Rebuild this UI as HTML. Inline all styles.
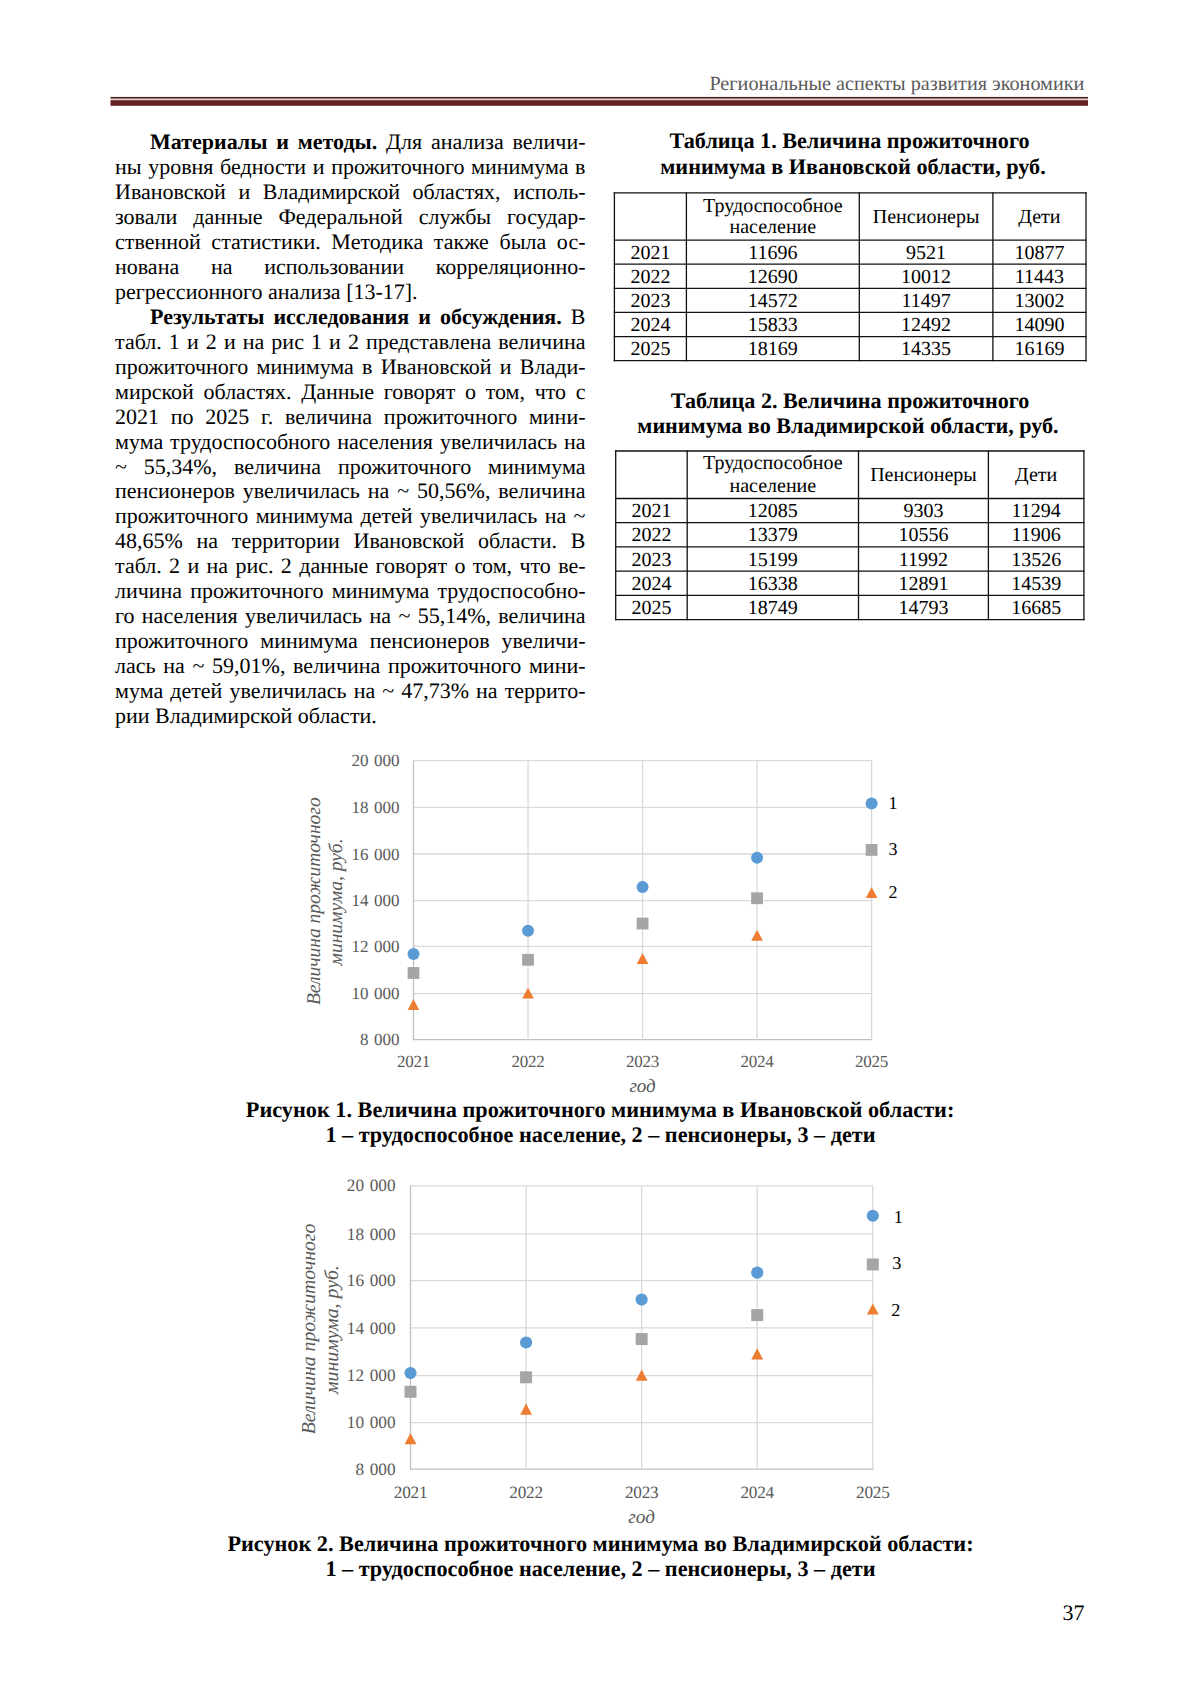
<!DOCTYPE html>
<html><head><meta charset="utf-8"><title>page</title><style>
html,body{margin:0;padding:0;background:#fff;}
body{-webkit-font-smoothing:antialiased;text-rendering:geometricPrecision;width:1200px;height:1697px;position:relative;overflow:hidden;font-family:"Liberation Serif",serif;color:#000;}
svg{position:absolute;left:0;top:0;}
svg text{font-family:"Liberation Serif",serif;}
.j{position:absolute;left:115px;width:470.5px;line-height:0;font-size:22px;text-align:justify;text-align-last:justify;white-space:normal;}
.j.e{text-align-last:left;}
</style></head><body>
<div class="j" style="top:142.15px;left:150px;width:435.5px"><b>Материалы и методы.</b> Для анализа величи-</div>
<div class="j" style="top:167.10px">ны уровня бедности и прожиточного минимума в</div>
<div class="j" style="top:192.05px">Ивановской и Владимирской областях, исполь-</div>
<div class="j" style="top:217.00px">зовали данные Федеральной службы государ-</div>
<div class="j" style="top:241.95px">ственной статистики. Методика также была ос-</div>
<div class="j" style="top:266.90px">нована на использовании корреляционно-</div>
<div class="j e" style="top:291.85px">регрессионного анализа [13-17].</div>
<div class="j" style="top:316.80px;left:150px;width:435.5px"><b>Результаты исследования и обсуждения.</b> В</div>
<div class="j" style="top:341.75px">табл. 1 и 2 и на рис 1 и 2 представлена величина</div>
<div class="j" style="top:366.70px">прожиточного минимума в Ивановской и Влади-</div>
<div class="j" style="top:391.65px">мирской областях. Данные говорят о том, что с</div>
<div class="j" style="top:416.60px">2021 по 2025 г. величина прожиточного мини-</div>
<div class="j" style="top:441.55px">мума трудоспособного населения увеличилась на</div>
<div class="j" style="top:466.50px">~ 55,34%, величина прожиточного минимума</div>
<div class="j" style="top:491.45px">пенсионеров увеличилась на ~ 50,56%, величина</div>
<div class="j" style="top:516.40px">прожиточного минимума детей увеличилась на ~</div>
<div class="j" style="top:541.35px">48,65% на территории Ивановской области. В</div>
<div class="j" style="top:566.30px">табл. 2 и на рис. 2 данные говорят о том, что ве-</div>
<div class="j" style="top:591.25px">личина прожиточного минимума трудоспособно-</div>
<div class="j" style="top:616.20px">го населения увеличилась на ~ 55,14%, величина</div>
<div class="j" style="top:641.15px">прожиточного минимума пенсионеров увеличи-</div>
<div class="j" style="top:666.10px">лась на ~ 59,01%, величина прожиточного мини-</div>
<div class="j" style="top:691.05px">мума детей увеличилась на ~ 47,73% на террито-</div>
<div class="j e" style="top:716.00px">рии Владимирской области.</div>
<svg width="1200" height="1697" viewBox="0 0 1200 1697">
<rect x="110.5" y="98.6" width="977.5" height="1.6" fill="#f2cfcf"/>
<rect x="110.5" y="96.9" width="977.5" height="1.7" fill="#4f2929"/>
<rect x="110.5" y="100.2" width="977.5" height="5.6" fill="#632224"/>
<text x="1084.30" y="89.70" font-size="20.2" text-anchor="end" font-weight="normal" font-style="normal" fill="#5a5a5a" >Региональные аспекты развития экономики</text>
<text x="849.50" y="148.30" font-size="22.2" text-anchor="middle" font-weight="bold" font-style="normal" fill="#000" >Таблица 1. Величина прожиточного</text>
<text x="853.00" y="174.20" font-size="22.2" text-anchor="middle" font-weight="bold" font-style="normal" fill="#000" >минимума в Ивановской области, руб.</text>
<text x="850.00" y="407.90" font-size="22.1" text-anchor="middle" font-weight="bold" font-style="normal" fill="#000" >Таблица 2. Величина прожиточного</text>
<text x="848.00" y="432.90" font-size="22.1" text-anchor="middle" font-weight="bold" font-style="normal" fill="#000" >минимума во Владимирской области, руб.</text>
<line x1="614.4" y1="192.25" x2="614.4" y2="361.34999999999997" stroke="#111" stroke-width="1.3"/>
<line x1="686.4" y1="192.25" x2="686.4" y2="361.34999999999997" stroke="#111" stroke-width="1.3"/>
<line x1="859.3" y1="192.25" x2="859.3" y2="361.34999999999997" stroke="#111" stroke-width="1.3"/>
<line x1="992.9" y1="192.25" x2="992.9" y2="361.34999999999997" stroke="#111" stroke-width="1.3"/>
<line x1="1086.0" y1="192.25" x2="1086.0" y2="361.34999999999997" stroke="#111" stroke-width="1.3"/>
<line x1="613.75" y1="192.9" x2="1086.65" y2="192.9" stroke="#111" stroke-width="1.3"/>
<line x1="613.75" y1="240.1" x2="1086.65" y2="240.1" stroke="#111" stroke-width="1.3"/>
<line x1="613.75" y1="264.2" x2="1086.65" y2="264.2" stroke="#111" stroke-width="1.3"/>
<line x1="613.75" y1="288.3" x2="1086.65" y2="288.3" stroke="#111" stroke-width="1.3"/>
<line x1="613.75" y1="312.4" x2="1086.65" y2="312.4" stroke="#111" stroke-width="1.3"/>
<line x1="613.75" y1="336.6" x2="1086.65" y2="336.6" stroke="#111" stroke-width="1.3"/>
<line x1="613.75" y1="360.7" x2="1086.65" y2="360.7" stroke="#111" stroke-width="1.3"/>
<text x="772.85" y="211.50" font-size="20" text-anchor="middle" font-weight="normal" font-style="normal" fill="#000" >Трудоспособное</text>
<text x="772.85" y="233.40" font-size="20" text-anchor="middle" font-weight="normal" font-style="normal" fill="#000" >население</text>
<text x="926.10" y="222.80" font-size="20" text-anchor="middle" font-weight="normal" font-style="normal" fill="#000" >Пенсионеры</text>
<text x="1039.45" y="222.80" font-size="20" text-anchor="middle" font-weight="normal" font-style="normal" fill="#000" >Дети</text>
<text x="650.40" y="258.80" font-size="20" text-anchor="middle" font-weight="normal" font-style="normal" fill="#000" >2021</text>
<text x="772.85" y="258.80" font-size="20" text-anchor="middle" font-weight="normal" font-style="normal" fill="#000" >11696</text>
<text x="926.10" y="258.80" font-size="20" text-anchor="middle" font-weight="normal" font-style="normal" fill="#000" >9521</text>
<text x="1039.45" y="258.80" font-size="20" text-anchor="middle" font-weight="normal" font-style="normal" fill="#000" >10877</text>
<text x="650.40" y="282.90" font-size="20" text-anchor="middle" font-weight="normal" font-style="normal" fill="#000" >2022</text>
<text x="772.85" y="282.90" font-size="20" text-anchor="middle" font-weight="normal" font-style="normal" fill="#000" >12690</text>
<text x="926.10" y="282.90" font-size="20" text-anchor="middle" font-weight="normal" font-style="normal" fill="#000" >10012</text>
<text x="1039.45" y="282.90" font-size="20" text-anchor="middle" font-weight="normal" font-style="normal" fill="#000" >11443</text>
<text x="650.40" y="307.00" font-size="20" text-anchor="middle" font-weight="normal" font-style="normal" fill="#000" >2023</text>
<text x="772.85" y="307.00" font-size="20" text-anchor="middle" font-weight="normal" font-style="normal" fill="#000" >14572</text>
<text x="926.10" y="307.00" font-size="20" text-anchor="middle" font-weight="normal" font-style="normal" fill="#000" >11497</text>
<text x="1039.45" y="307.00" font-size="20" text-anchor="middle" font-weight="normal" font-style="normal" fill="#000" >13002</text>
<text x="650.40" y="331.10" font-size="20" text-anchor="middle" font-weight="normal" font-style="normal" fill="#000" >2024</text>
<text x="772.85" y="331.10" font-size="20" text-anchor="middle" font-weight="normal" font-style="normal" fill="#000" >15833</text>
<text x="926.10" y="331.10" font-size="20" text-anchor="middle" font-weight="normal" font-style="normal" fill="#000" >12492</text>
<text x="1039.45" y="331.10" font-size="20" text-anchor="middle" font-weight="normal" font-style="normal" fill="#000" >14090</text>
<text x="650.40" y="355.30" font-size="20" text-anchor="middle" font-weight="normal" font-style="normal" fill="#000" >2025</text>
<text x="772.85" y="355.30" font-size="20" text-anchor="middle" font-weight="normal" font-style="normal" fill="#000" >18169</text>
<text x="926.10" y="355.30" font-size="20" text-anchor="middle" font-weight="normal" font-style="normal" fill="#000" >14335</text>
<text x="1039.45" y="355.30" font-size="20" text-anchor="middle" font-weight="normal" font-style="normal" fill="#000" >16169</text>
<line x1="615.7" y1="450.35" x2="615.7" y2="620.25" stroke="#111" stroke-width="1.3"/>
<line x1="687.2" y1="450.35" x2="687.2" y2="620.25" stroke="#111" stroke-width="1.3"/>
<line x1="858.5" y1="450.35" x2="858.5" y2="620.25" stroke="#111" stroke-width="1.3"/>
<line x1="988.4" y1="450.35" x2="988.4" y2="620.25" stroke="#111" stroke-width="1.3"/>
<line x1="1083.9" y1="450.35" x2="1083.9" y2="620.25" stroke="#111" stroke-width="1.3"/>
<line x1="615.0500000000001" y1="451.0" x2="1084.5500000000002" y2="451.0" stroke="#111" stroke-width="1.3"/>
<line x1="615.0500000000001" y1="498.5" x2="1084.5500000000002" y2="498.5" stroke="#111" stroke-width="1.3"/>
<line x1="615.0500000000001" y1="522.6" x2="1084.5500000000002" y2="522.6" stroke="#111" stroke-width="1.3"/>
<line x1="615.0500000000001" y1="546.9" x2="1084.5500000000002" y2="546.9" stroke="#111" stroke-width="1.3"/>
<line x1="615.0500000000001" y1="571.2" x2="1084.5500000000002" y2="571.2" stroke="#111" stroke-width="1.3"/>
<line x1="615.0500000000001" y1="595.4" x2="1084.5500000000002" y2="595.4" stroke="#111" stroke-width="1.3"/>
<line x1="615.0500000000001" y1="619.6" x2="1084.5500000000002" y2="619.6" stroke="#111" stroke-width="1.3"/>
<text x="772.85" y="469.30" font-size="20" text-anchor="middle" font-weight="normal" font-style="normal" fill="#000" >Трудоспособное</text>
<text x="772.85" y="492.20" font-size="20" text-anchor="middle" font-weight="normal" font-style="normal" fill="#000" >население</text>
<text x="923.45" y="480.70" font-size="20" text-anchor="middle" font-weight="normal" font-style="normal" fill="#000" >Пенсионеры</text>
<text x="1036.15" y="480.70" font-size="20" text-anchor="middle" font-weight="normal" font-style="normal" fill="#000" >Дети</text>
<text x="651.45" y="517.20" font-size="20" text-anchor="middle" font-weight="normal" font-style="normal" fill="#000" >2021</text>
<text x="772.85" y="517.20" font-size="20" text-anchor="middle" font-weight="normal" font-style="normal" fill="#000" >12085</text>
<text x="923.45" y="517.20" font-size="20" text-anchor="middle" font-weight="normal" font-style="normal" fill="#000" >9303</text>
<text x="1036.15" y="517.20" font-size="20" text-anchor="middle" font-weight="normal" font-style="normal" fill="#000" >11294</text>
<text x="651.45" y="541.30" font-size="20" text-anchor="middle" font-weight="normal" font-style="normal" fill="#000" >2022</text>
<text x="772.85" y="541.30" font-size="20" text-anchor="middle" font-weight="normal" font-style="normal" fill="#000" >13379</text>
<text x="923.45" y="541.30" font-size="20" text-anchor="middle" font-weight="normal" font-style="normal" fill="#000" >10556</text>
<text x="1036.15" y="541.30" font-size="20" text-anchor="middle" font-weight="normal" font-style="normal" fill="#000" >11906</text>
<text x="651.45" y="565.60" font-size="20" text-anchor="middle" font-weight="normal" font-style="normal" fill="#000" >2023</text>
<text x="772.85" y="565.60" font-size="20" text-anchor="middle" font-weight="normal" font-style="normal" fill="#000" >15199</text>
<text x="923.45" y="565.60" font-size="20" text-anchor="middle" font-weight="normal" font-style="normal" fill="#000" >11992</text>
<text x="1036.15" y="565.60" font-size="20" text-anchor="middle" font-weight="normal" font-style="normal" fill="#000" >13526</text>
<text x="651.45" y="589.90" font-size="20" text-anchor="middle" font-weight="normal" font-style="normal" fill="#000" >2024</text>
<text x="772.85" y="589.90" font-size="20" text-anchor="middle" font-weight="normal" font-style="normal" fill="#000" >16338</text>
<text x="923.45" y="589.90" font-size="20" text-anchor="middle" font-weight="normal" font-style="normal" fill="#000" >12891</text>
<text x="1036.15" y="589.90" font-size="20" text-anchor="middle" font-weight="normal" font-style="normal" fill="#000" >14539</text>
<text x="651.45" y="614.10" font-size="20" text-anchor="middle" font-weight="normal" font-style="normal" fill="#000" >2025</text>
<text x="772.85" y="614.10" font-size="20" text-anchor="middle" font-weight="normal" font-style="normal" fill="#000" >18749</text>
<text x="923.45" y="614.10" font-size="20" text-anchor="middle" font-weight="normal" font-style="normal" fill="#000" >14793</text>
<text x="1036.15" y="614.10" font-size="20" text-anchor="middle" font-weight="normal" font-style="normal" fill="#000" >16685</text>
<line x1="412.85" y1="760.70" x2="872.25" y2="760.70" stroke="#d9d9d9" stroke-width="1.3"/>
<text x="399.50" y="766.30" font-size="17.0" text-anchor="end" font-weight="normal" font-style="normal" fill="#595959" >20 <tspan dx="1.2">000</tspan></text>
<line x1="412.85" y1="807.35" x2="872.25" y2="807.35" stroke="#d9d9d9" stroke-width="1.3"/>
<text x="399.50" y="812.95" font-size="17.0" text-anchor="end" font-weight="normal" font-style="normal" fill="#595959" >18 <tspan dx="1.2">000</tspan></text>
<line x1="412.85" y1="854.00" x2="872.25" y2="854.00" stroke="#d9d9d9" stroke-width="1.3"/>
<text x="399.50" y="859.60" font-size="17.0" text-anchor="end" font-weight="normal" font-style="normal" fill="#595959" >16 <tspan dx="1.2">000</tspan></text>
<line x1="412.85" y1="900.70" x2="872.25" y2="900.70" stroke="#d9d9d9" stroke-width="1.3"/>
<text x="399.50" y="906.30" font-size="17.0" text-anchor="end" font-weight="normal" font-style="normal" fill="#595959" >14 <tspan dx="1.2">000</tspan></text>
<line x1="412.85" y1="946.40" x2="872.25" y2="946.40" stroke="#d9d9d9" stroke-width="1.3"/>
<text x="399.50" y="952.00" font-size="17.0" text-anchor="end" font-weight="normal" font-style="normal" fill="#595959" >12 <tspan dx="1.2">000</tspan></text>
<line x1="412.85" y1="993.70" x2="872.25" y2="993.70" stroke="#d9d9d9" stroke-width="1.3"/>
<text x="399.50" y="999.30" font-size="17.0" text-anchor="end" font-weight="normal" font-style="normal" fill="#595959" >10 <tspan dx="1.2">000</tspan></text>
<line x1="412.85" y1="1039.60" x2="872.25" y2="1039.60" stroke="#c0c0c0" stroke-width="1.3"/>
<text x="399.50" y="1045.20" font-size="17.0" text-anchor="end" font-weight="normal" font-style="normal" fill="#595959" >8 <tspan dx="1.2">000</tspan></text>
<line x1="413.50" y1="760.85" x2="413.50" y2="1039.85" stroke="#c0c0c0" stroke-width="1.3"/>
<text x="413.50" y="1067.05" font-size="17.0" text-anchor="middle" font-weight="normal" font-style="normal" fill="#595959" letter-spacing="-0.25">2021</text>
<line x1="528.02" y1="760.85" x2="528.02" y2="1039.85" stroke="#d9d9d9" stroke-width="1.3"/>
<text x="528.02" y="1067.05" font-size="17.0" text-anchor="middle" font-weight="normal" font-style="normal" fill="#595959" letter-spacing="-0.25">2022</text>
<line x1="642.55" y1="760.85" x2="642.55" y2="1039.85" stroke="#d9d9d9" stroke-width="1.3"/>
<text x="642.55" y="1067.05" font-size="17.0" text-anchor="middle" font-weight="normal" font-style="normal" fill="#595959" letter-spacing="-0.25">2023</text>
<line x1="757.08" y1="760.85" x2="757.08" y2="1039.85" stroke="#d9d9d9" stroke-width="1.3"/>
<text x="757.08" y="1067.05" font-size="17.0" text-anchor="middle" font-weight="normal" font-style="normal" fill="#595959" letter-spacing="-0.25">2024</text>
<line x1="871.60" y1="760.85" x2="871.60" y2="1039.85" stroke="#d9d9d9" stroke-width="1.3"/>
<text x="871.60" y="1067.05" font-size="17.0" text-anchor="middle" font-weight="normal" font-style="normal" fill="#595959" letter-spacing="-0.25">2025</text>
<text x="642.55" y="1092.00" font-size="19.0" text-anchor="middle" font-weight="normal" font-style="italic" fill="#595959" >год</text>
<g transform="translate(320.4,901.2) rotate(-90)"><text x="0.00" y="0.00" font-size="19.5" text-anchor="middle" font-weight="normal" font-style="italic" fill="#595959" >Величина прожиточного</text></g>
<g transform="translate(342.0,902.0) rotate(-90)"><text x="0.00" y="0.00" font-size="19.5" text-anchor="middle" font-weight="normal" font-style="italic" fill="#595959" >минимума, руб.</text></g>
<path d="M413.50,998.89 L419.30,1009.89 L407.70,1009.89 Z" fill="#ed7d31"/>
<rect x="407.60" y="967.06" width="11.80" height="11.80" fill="#a5a5a5"/>
<circle cx="413.50" cy="953.92" r="6.0" fill="#5b9bd5"/>
<path d="M528.02,987.47 L533.82,998.47 L522.23,998.47 Z" fill="#ed7d31"/>
<rect x="522.12" y="953.90" width="11.80" height="11.80" fill="#a5a5a5"/>
<circle cx="528.02" cy="930.81" r="6.0" fill="#5b9bd5"/>
<path d="M642.55,952.94 L648.35,963.94 L636.75,963.94 Z" fill="#ed7d31"/>
<rect x="636.65" y="917.65" width="11.80" height="11.80" fill="#a5a5a5"/>
<circle cx="642.55" cy="887.05" r="6.0" fill="#5b9bd5"/>
<path d="M757.08,929.81 L762.88,940.81 L751.28,940.81 Z" fill="#ed7d31"/>
<rect x="751.18" y="892.36" width="11.80" height="11.80" fill="#a5a5a5"/>
<circle cx="757.08" cy="857.73" r="6.0" fill="#5b9bd5"/>
<path d="M871.60,886.96 L877.40,897.96 L865.80,897.96 Z" fill="#ed7d31"/>
<rect x="865.70" y="844.02" width="11.80" height="11.80" fill="#a5a5a5"/>
<circle cx="871.60" cy="803.42" r="6.0" fill="#5b9bd5"/>
<text x="888.50" y="809.25" font-size="18.0" text-anchor="start" font-weight="normal" font-style="normal" fill="#000" >1</text>
<text x="888.50" y="854.50" font-size="18.0" text-anchor="start" font-weight="normal" font-style="normal" fill="#000" >3</text>
<text x="888.50" y="897.75" font-size="18.0" text-anchor="start" font-weight="normal" font-style="normal" fill="#000" >2</text>
<line x1="409.85" y1="1185.80" x2="873.4499999999999" y2="1185.80" stroke="#d9d9d9" stroke-width="1.3"/>
<text x="395.50" y="1191.48" font-size="17.25" text-anchor="end" font-weight="normal" font-style="normal" fill="#595959" >20 <tspan dx="1.2">000</tspan></text>
<line x1="409.85" y1="1233.90" x2="873.4499999999999" y2="1233.90" stroke="#d9d9d9" stroke-width="1.3"/>
<text x="395.50" y="1239.58" font-size="17.25" text-anchor="end" font-weight="normal" font-style="normal" fill="#595959" >18 <tspan dx="1.2">000</tspan></text>
<line x1="409.85" y1="1280.65" x2="873.4499999999999" y2="1280.65" stroke="#d9d9d9" stroke-width="1.3"/>
<text x="395.50" y="1286.33" font-size="17.25" text-anchor="end" font-weight="normal" font-style="normal" fill="#595959" >16 <tspan dx="1.2">000</tspan></text>
<line x1="409.85" y1="1327.96" x2="873.4499999999999" y2="1327.96" stroke="#d9d9d9" stroke-width="1.3"/>
<text x="395.50" y="1333.64" font-size="17.25" text-anchor="end" font-weight="normal" font-style="normal" fill="#595959" >14 <tspan dx="1.2">000</tspan></text>
<line x1="409.85" y1="1375.70" x2="873.4499999999999" y2="1375.70" stroke="#d9d9d9" stroke-width="1.3"/>
<text x="395.50" y="1381.38" font-size="17.25" text-anchor="end" font-weight="normal" font-style="normal" fill="#595959" >12 <tspan dx="1.2">000</tspan></text>
<line x1="409.85" y1="1422.70" x2="873.4499999999999" y2="1422.70" stroke="#d9d9d9" stroke-width="1.3"/>
<text x="395.50" y="1428.38" font-size="17.25" text-anchor="end" font-weight="normal" font-style="normal" fill="#595959" >10 <tspan dx="1.2">000</tspan></text>
<line x1="409.85" y1="1469.05" x2="873.4499999999999" y2="1469.05" stroke="#c0c0c0" stroke-width="1.3"/>
<text x="395.50" y="1474.73" font-size="17.25" text-anchor="end" font-weight="normal" font-style="normal" fill="#595959" >8 <tspan dx="1.2">000</tspan></text>
<line x1="410.50" y1="1186.2" x2="410.50" y2="1469.5" stroke="#c0c0c0" stroke-width="1.3"/>
<text x="410.50" y="1497.60" font-size="17.25" text-anchor="middle" font-weight="normal" font-style="normal" fill="#595959" letter-spacing="-0.25">2021</text>
<line x1="526.08" y1="1186.2" x2="526.08" y2="1469.5" stroke="#d9d9d9" stroke-width="1.3"/>
<text x="526.08" y="1497.60" font-size="17.25" text-anchor="middle" font-weight="normal" font-style="normal" fill="#595959" letter-spacing="-0.25">2022</text>
<line x1="641.65" y1="1186.2" x2="641.65" y2="1469.5" stroke="#d9d9d9" stroke-width="1.3"/>
<text x="641.65" y="1497.60" font-size="17.25" text-anchor="middle" font-weight="normal" font-style="normal" fill="#595959" letter-spacing="-0.25">2023</text>
<line x1="757.22" y1="1186.2" x2="757.22" y2="1469.5" stroke="#d9d9d9" stroke-width="1.3"/>
<text x="757.22" y="1497.60" font-size="17.25" text-anchor="middle" font-weight="normal" font-style="normal" fill="#595959" letter-spacing="-0.25">2024</text>
<line x1="872.80" y1="1186.2" x2="872.80" y2="1469.5" stroke="#d9d9d9" stroke-width="1.3"/>
<text x="872.80" y="1497.60" font-size="17.25" text-anchor="middle" font-weight="normal" font-style="normal" fill="#595959" letter-spacing="-0.25">2025</text>
<text x="641.65" y="1523.00" font-size="19.28" text-anchor="middle" font-weight="normal" font-style="italic" fill="#595959" >год</text>
<g transform="translate(315.2,1328.9) rotate(-90)"><text x="0.00" y="0.00" font-size="19.79" text-anchor="middle" font-weight="normal" font-style="italic" fill="#595959" >Величина прожиточного</text></g>
<g transform="translate(338.3,1329.6) rotate(-90)"><text x="0.00" y="0.00" font-size="19.79" text-anchor="middle" font-weight="normal" font-style="italic" fill="#595959" >минимума, руб.</text></g>
<path d="M410.50,1433.05 L416.39,1444.22 L404.61,1444.22 Z" fill="#ed7d31"/>
<rect x="404.51" y="1385.75" width="11.98" height="11.98" fill="#a5a5a5"/>
<circle cx="410.50" cy="1373.06" r="6.09" fill="#5b9bd5"/>
<path d="M526.08,1403.47 L531.96,1414.64 L520.19,1414.64 Z" fill="#ed7d31"/>
<rect x="520.09" y="1371.30" width="11.98" height="11.98" fill="#a5a5a5"/>
<circle cx="526.08" cy="1342.51" r="6.09" fill="#5b9bd5"/>
<path d="M641.65,1369.57 L647.54,1380.74 L635.76,1380.74 Z" fill="#ed7d31"/>
<rect x="635.66" y="1333.05" width="11.98" height="11.98" fill="#a5a5a5"/>
<circle cx="641.65" cy="1299.54" r="6.09" fill="#5b9bd5"/>
<path d="M757.22,1348.35 L763.11,1359.51 L751.34,1359.51 Z" fill="#ed7d31"/>
<rect x="751.24" y="1309.14" width="11.98" height="11.98" fill="#a5a5a5"/>
<circle cx="757.22" cy="1272.65" r="6.09" fill="#5b9bd5"/>
<path d="M872.80,1303.44 L878.69,1314.61 L866.91,1314.61 Z" fill="#ed7d31"/>
<rect x="866.81" y="1258.47" width="11.98" height="11.98" fill="#a5a5a5"/>
<circle cx="872.80" cy="1215.73" r="6.09" fill="#5b9bd5"/>
<text x="893.80" y="1222.50" font-size="18.27" text-anchor="start" font-weight="normal" font-style="normal" fill="#000" >1</text>
<text x="892.30" y="1268.80" font-size="18.27" text-anchor="start" font-weight="normal" font-style="normal" fill="#000" >3</text>
<text x="891.20" y="1316.00" font-size="18.27" text-anchor="start" font-weight="normal" font-style="normal" fill="#000" >2</text>
<text x="600.10" y="1116.60" font-size="22.25" text-anchor="middle" font-weight="bold" font-style="normal" fill="#000" >Рисунок 1. Величина прожиточного минимума в Ивановской области:</text>
<text x="600.40" y="1141.70" font-size="22.2" text-anchor="middle" font-weight="bold" font-style="normal" fill="#000" >1 – трудоспособное население, 2 – пенсионеры, 3 – дети</text>
<text x="600.50" y="1550.80" font-size="22.25" text-anchor="middle" font-weight="bold" font-style="normal" fill="#000" >Рисунок 2. Величина прожиточного минимума во Владимирской области:</text>
<text x="600.40" y="1576.00" font-size="22.2" text-anchor="middle" font-weight="bold" font-style="normal" fill="#000" >1 – трудоспособное население, 2 – пенсионеры, 3 – дети</text>
<text x="1084.40" y="1620.25" font-size="22" text-anchor="end" font-weight="normal" font-style="normal" fill="#000" >37</text>
</svg>
</body></html>
